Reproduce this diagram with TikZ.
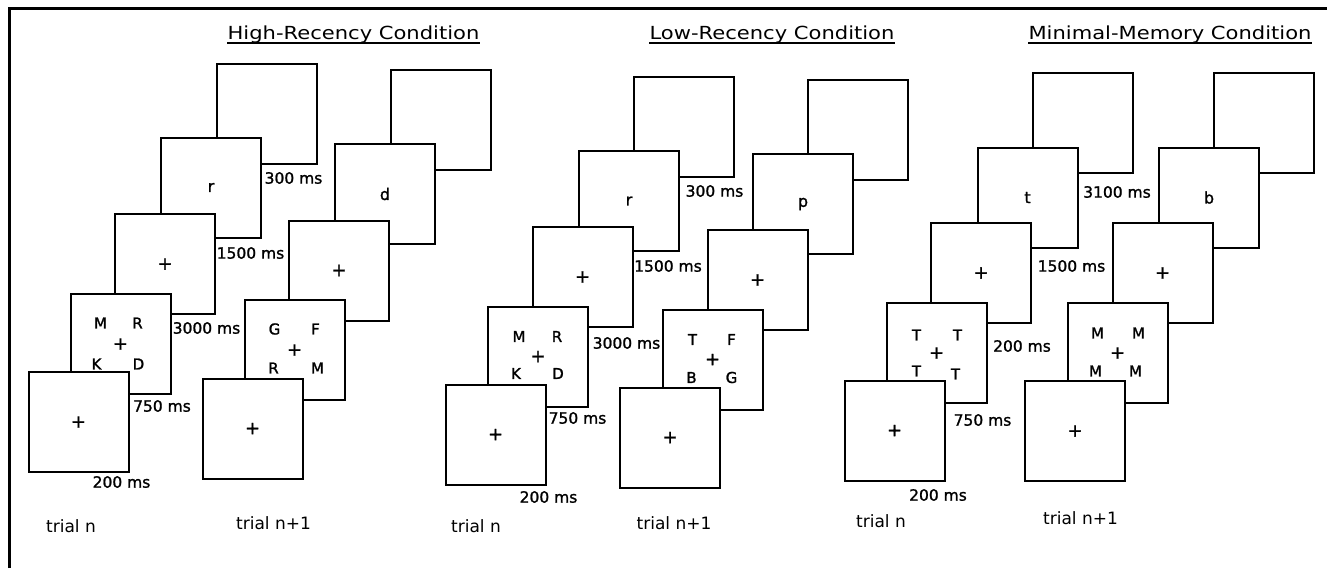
\documentclass[tikz,border=0pt]{standalone}
\usepackage{fontspec}
\setmainfont{DejaVu Sans}
\newfontfamily\heavy[FakeBold=1.3]{DejaVu Sans}
\newcommand{\fx}{{\fontsize{18}{20}\selectfont +}}
\begin{document}
\begin{tikzpicture}[x=1pt,y=-1pt,
  scr/.style={draw,fill=white,line width=2pt,minimum size=100pt,inner sep=0pt,font=\heavy\fontsize{16}{18}\selectfont},
  ltr/.style={inner sep=0pt,font=\heavy\fontsize{15}{17}\selectfont},
  ms/.style={inner sep=0pt,font=\heavy\fontsize{15.5}{18}\selectfont},
  trl/.style={inner sep=0pt,font=\fontsize{17}{20}\selectfont},
  ttl/.style={inner sep=0pt,anchor=base,font=\fontsize{18}{20}\selectfont},
  uline/.style={line width=1.3pt},
  frame/.style={line width=2.4pt}]
\useasboundingbox (0,0) rectangle (1327,568);
% frame
\coordinate (fb) at (9.5,568);
\coordinate (fc) at (9.5,8.5);
\coordinate (fr) at (1327,8.5);
\draw[frame] (fb) -- (fc) -- (fr);
% titles
\node[ttl] (t1) at (353.5,39) {\scalebox{1.17}[1]{High-Recency Condition}};
\node[ttl] (t2) at (772,39) {\scalebox{1.17}[1]{Low-Recency Condition}};
\node[ttl] (t3) at (1170,39) {\scalebox{1.17}[1]{Minimal-Memory Condition}};
\draw[uline] ([yshift=-4pt]t1.base west) -- ([yshift=-4pt]t1.base east);
\draw[uline] ([yshift=-4pt]t2.base west) -- ([yshift=-4pt]t2.base east);
\draw[uline] ([yshift=-4pt]t3.base west) -- ([yshift=-4pt]t3.base east);

% ===== Panel 1, trial n =====
\node[scr] (a1) at (266.5,113.5) {};
\node[scr] (a2) at (211,187.5) {r};
\node[scr] (a3) at (165,264) {\fx};
\node[scr] (a4) at (120.5,344) {\fx};
\node[ltr] (a4a) at ([shift={(-20,-21)}]a4.center) {M};
\node[ltr] (a4b) at ([shift={(17,-21)}]a4.center) {R};
\node[ltr] (a4c) at ([shift={(-24,20)}]a4.center) {K};
\node[ltr] (a4d) at ([shift={(18,20)}]a4.center) {D};
\node[scr] (a5) at (78.5,422) {\fx};
\node[ms] (la1) at (293.5,178) {300 ms};
\node[ms] (la2) at (250.5,253) {1500 ms};
\node[ms] (la3) at (206.5,328) {3000 ms};
\node[ms] (la4) at (162,406) {750 ms};
\node[ms] (la5) at (121.5,482) {200 ms};
\node[trl] (ta) at (71,526) {trial n};

% ===== Panel 1, trial n+1 =====
\node[scr] (b1) at (440.5,120) {};
\node[scr] (b2) at (385,194) {d};
\node[scr] (b3) at (339,270.5) {\fx};
\node[scr] (b4) at (294.5,350) {\fx};
\node[ltr] (b4a) at ([shift={(-20,-21)}]b4.center) {G};
\node[ltr] (b4b) at ([shift={(21,-21)}]b4.center) {F};
\node[ltr] (b4c) at ([shift={(-21,18)}]b4.center) {R};
\node[ltr] (b4d) at ([shift={(23,18)}]b4.center) {M};
\node[scr] (b5) at (252.5,428.5) {\fx};
\node[trl] (tb) at (273.5,523) {trial n+1};

% ===== Panel 2, trial n =====
\node[scr] (c1) at (684,126.5) {};
\node[scr] (c2) at (629,201) {r};
\node[scr] (c3) at (582.5,277) {\fx};
\node[scr] (c4) at (538,356.5) {\fx};
\node[ltr] (c4a) at ([shift={(-19,-20)}]c4.center) {M};
\node[ltr] (c4b) at ([shift={(19,-20)}]c4.center) {R};
\node[ltr] (c4c) at ([shift={(-22,17)}]c4.center) {K};
\node[ltr] (c4d) at ([shift={(20,17)}]c4.center) {D};
\node[scr] (c5) at (495.5,434.5) {\fx};
\node[ms] (lc1) at (714.5,191) {300 ms};
\node[ms] (lc2) at (668,266) {1500 ms};
\node[ms] (lc3) at (626.5,343) {3000 ms};
\node[ms] (lc4) at (577.5,418) {750 ms};
\node[ms] (lc5) at (548.5,497) {200 ms};
\node[trl] (tc) at (476,526) {trial n};

% ===== Panel 2, trial n+1 =====
\node[scr] (d1) at (858,130) {};
\node[scr] (d2) at (803,204) {p};
\node[scr] (d3) at (757.5,280) {\fx};
\node[scr] (d4) at (712.5,359.5) {\fx};
\node[ltr] (d4a) at ([shift={(-20,-20)}]d4.center) {T};
\node[ltr] (d4b) at ([shift={(19,-20)}]d4.center) {F};
\node[ltr] (d4c) at ([shift={(-21,18)}]d4.center) {B};
\node[ltr] (d4d) at ([shift={(19,18)}]d4.center) {G};
\node[scr] (d5) at (670,437.5) {\fx};
\node[trl] (td) at (674,523) {trial n+1};

% ===== Panel 3, trial n =====
\node[scr] (e1) at (1082.5,122.5) {};
\node[scr] (e2) at (1027.5,197.5) {t};
\node[scr] (e3) at (981,273) {\fx};
\node[scr] (e4) at (936.5,353) {\fx};
\node[ltr] (e4a) at ([shift={(-20,-18)}]e4.center) {T};
\node[ltr] (e4b) at ([shift={(21,-18)}]e4.center) {T};
\node[ltr] (e4c) at ([shift={(-20,18)}]e4.center) {T};
\node[ltr] (e4d) at ([shift={(19,21)}]e4.center) {T};
\node[scr] (e5) at (894.5,430.5) {\fx};
\node[ms] (le1) at (1117,192) {3100 ms};
\node[ms] (le2) at (1071.5,266) {1500 ms};
\node[ms] (le3) at (1022,346) {200 ms};
\node[ms] (le4) at (982.5,420) {750 ms};
\node[ms] (le5) at (938,495) {200 ms};
\node[trl] (te) at (881,521) {trial n};

% ===== Panel 3, trial n+1 =====
\node[scr] (f1) at (1264,122.5) {};
\node[scr] (f2) at (1209,197.5) {b};
\node[scr] (f3) at (1162.5,273) {\fx};
\node[scr] (f4) at (1117.5,353) {\fx};
\node[ltr] (f4a) at ([shift={(-20,-20)}]f4.center) {M};
\node[ltr] (f4b) at ([shift={(21,-20)}]f4.center) {M};
\node[ltr] (f4c) at ([shift={(-22,18)}]f4.center) {M};
\node[ltr] (f4d) at ([shift={(18,18)}]f4.center) {M};
\node[scr] (f5) at (1075,431) {\fx};
\node[trl] (tf) at (1080.5,518) {trial n+1};
\end{tikzpicture}
\end{document}
